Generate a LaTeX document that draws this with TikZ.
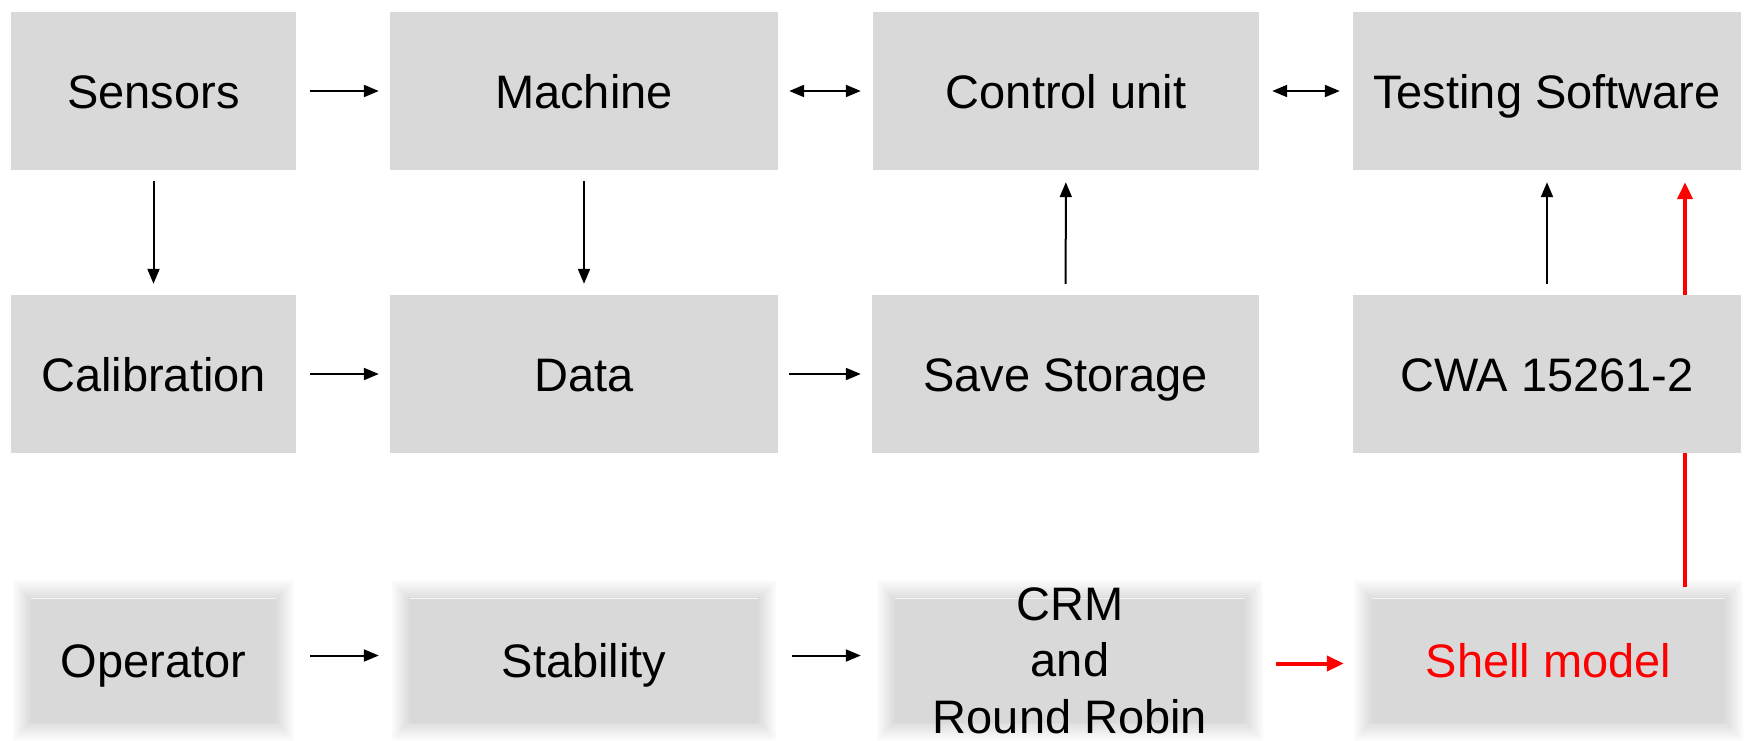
\documentclass[tikz,border=0pt]{standalone}
\usepackage{fontspec}
\setmainfont{Liberation Sans}
\usetikzlibrary{arrows.meta,backgrounds}
\definecolor{boxgray}{HTML}{D9D9D9}
\definecolor{pptred}{HTML}{FF0000}
\begin{document}
\begin{tikzpicture}[x=1pt,y=-1pt,
  box/.style={fill=boxgray, inner sep=0pt, minimum height=158pt,
    font=\fontsize{47}{56.5}\selectfont, text=black, text height=34pt, text depth=0pt},
  lowbox/.style={box, minimum height=124pt},
  lbl/.style={inner sep=0pt, font=\fontsize{47}{56.5}\selectfont, align=center},
  arr/.style={line width=2pt, -{Triangle[length=15pt,width=12pt]}},
  darr/.style={line width=2pt, {Triangle[length=15pt,width=12pt]}-{Triangle[length=15pt,width=12pt]}},
  redarr/.style={line width=4pt, draw=pptred, -{Triangle[length=17pt,width=15pt]}}]
\useasboundingbox (0,0) rectangle (1746,740);
% row 1
\node[box, minimum width=285pt] (sens) at (153.5,91) {Sensors};
\node[box, minimum width=388pt] (mach) at (584,91) {Machine};
\node[box, minimum width=386pt] (ctrl) at (1066,91) {Control unit};
\node[box, minimum width=388pt] (test) at (1547,91) {Testing Software};
% row 2
\node[box, minimum width=285pt] (cal) at (153.5,374) {Calibration};
\node[box, minimum width=388pt] (data) at (584,374) {Data};
\node[box, minimum width=387pt] (save) at (1065.5,374) {Save Storage};
\node[box, minimum width=388pt] (cwa) at (1547,374) {CWA 15261-2};
% row 3
\node[lowbox, minimum width=245pt] (op) at (153.5,660.5) {Operator};
\node[lowbox, minimum width=348pt] (stab) at (584,660.5) {Stability};
\node[lowbox, minimum width=350pt] (crm) at (1070,660.5) {};
\node[lowbox, minimum width=353pt, text=pptred] (shell) at (1548.5,660.5) {Shell model};
\node[lbl] (crmtxt) at (1070,660.5) {CRM\\and\\Round Robin};
\begin{pgfonlayer}{background}
  \foreach \n in {op,stab,crm,shell}{
    \foreach \d in {2,4,...,18}{
      \pgfmathsetmacro\op{1-\d/20}
      \fill[boxgray, opacity=\op, even odd rule]
        ([shift={(-\d,-\d)}]\n.north west) rectangle ([shift={(\d,\d)}]\n.south east)
        ([shift={(-\d+2,-\d+2)}]\n.north west) rectangle ([shift={(\d-2,\d-2)}]\n.south east);
    }
  }
  \coordinate (rx) at (1685,0);
  \draw[redarr, shorten <=11pt, shorten >=12pt] (shell.north -| rx) -- (test.south -| rx);
\end{pgfonlayer}
% horizontal connectors
\draw[arr, shorten <=14pt, shorten >=11pt] (sens) -- (mach);
\draw[darr, shorten <=11pt, shorten >=12pt] (mach) -- (ctrl);
\draw[darr, shorten <=13pt, shorten >=13pt] (ctrl) -- (test);
\draw[arr, shorten <=14pt, shorten >=11pt] (cal) -- (data);
\draw[arr, shorten <=11pt, shorten >=11pt] (data) -- (save);
\draw[arr, shorten <=34pt, shorten >=31pt] ([yshift=5pt]op.east) -- ([yshift=5pt]stab.west);
\draw[arr, shorten <=34pt, shorten >=34pt] ([yshift=5pt]stab.east) -- ([yshift=5pt]crm.west);
\draw[redarr, shorten <=31pt, shorten >=28pt] ([yshift=-3pt]crm.east) -- ([yshift=-3pt]shell.west);
% vertical connectors
\draw[arr, shorten <=11pt, shorten >=11pt] (sens) -- (cal);
\draw[arr, shorten <=11pt, shorten >=11pt] (mach) -- (data);
\draw[arr, shorten <=11pt, shorten >=12pt] (save) -- (ctrl);
\draw[arr, shorten <=11pt, shorten >=12pt] (cwa) -- (test);
\end{tikzpicture}
\end{document}
